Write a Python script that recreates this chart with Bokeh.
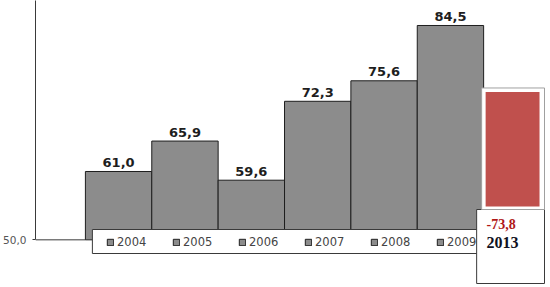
from bokeh.plotting import figure
from bokeh.models import Range1d, FixedTicker, Legend, LegendItem, ColumnDataSource
from bokeh.core.properties import value
from bokeh.embed import file_html
from bokeh.resources import INLINE

# ---- data ----
years = ["2004", "2005", "2006", "2007", "2008", "2009"]
values = [61.0, 65.9, 59.6, 72.3, 75.6, 84.5]
base_value = 50.0
axis_tick_label = "50,0"
highlight_year = "2013"
highlight_value = -73.8

# ---- layout constants (pixels) ----
W, H = 550, 287
LEFT = 34
X0_PX = 84.0        # left edge of first bar
BAR_PX = 66.5       # bar width in px
Y50_PX = 239.34     # pixel row of base value
PX_PER_UNIT = 6.2128


def xd(px):
    return (px - X0_PX) / BAR_PX


def yd(py):
    return base_value + (Y50_PX - py) / PX_PER_UNIT


def ypx(v):
    return Y50_PX - (v - base_value) * PX_PER_UNIT


p = figure(width=W, height=H, output_backend="svg", toolbar_location=None,
           x_range=Range1d(xd(LEFT), xd(W)), y_range=Range1d(yd(H), yd(0)),
           min_border_left=LEFT, min_border_right=0, min_border_top=0,
           min_border_bottom=0, x_axis_location=None, y_axis_location="left")
p.outline_line_color = None
p.grid.visible = False
p.background_fill_color = "white"
p.border_fill_color = "white"

ax = p.yaxis[0]
ax.ticker = FixedTicker(ticks=[base_value])
ax.major_label_overrides = {base_value: axis_tick_label}
ax.bounds = (base_value, yd(0))
ax.axis_line_color = "#3a3a3a"
ax.major_tick_line_color = "#3a3a3a"
ax.major_tick_out = 3
ax.major_tick_in = 0
ax.minor_tick_line_color = None
ax.major_label_standoff = 6
ax.major_label_text_font = "DejaVu Sans"
ax.major_label_text_font_size = "10.5px"
ax.major_label_text_color = "#555555"

# baseline stub to the first bar
p.segment(x0=[xd(LEFT)], y0=[base_value], x1=[0], y1=[base_value],
          line_color="#3a3a3a", line_width=1)

src = ColumnDataSource(dict(
    left=list(range(len(years))),
    right=[i + 1 for i in range(len(years))],
    top=values,
    bottom=[base_value] * len(years),
    year=years,
    xc=[i + 0.5 for i in range(len(years))],
    lab=[f"{v:.1f}".replace(".", ",") for v in values],
))
bars = p.quad(left="left", right="right", top="top", bottom="bottom", source=src,
              fill_color="#8c8c8c", line_color="#1e1e1e", line_width=1)
p.text(x="xc", y="top", text="lab", source=src, text_align="center",
       text_baseline="alphabetic", y_offset=-9,
       text_font=value("DejaVu Sans"), text_font_style="bold",
       text_font_size="13px", text_color="#1e1e1e")

# legend box
p.quad(left=[xd(91)], right=[xd(478)], top=[yd(229)], bottom=[yd(253)],
       fill_color="white", line_color="#3a3a3a", line_width=1)

items = [LegendItem(label=y, renderers=[bars], index=i) for i, y in enumerate(years)]
legend = Legend(items=items, orientation="horizontal", location=(71, 38),
                padding=5, spacing=6, glyph_width=8, glyph_height=8,
                label_standoff=3, label_width=49, label_height=14,
                label_text_font="DejaVu Sans", label_text_font_size="11.5px",
                label_text_color="#444444", border_line_color=None,
                background_fill_alpha=0)
p.add_layout(legend)

# 2013 highlight box
box = p.quad(left=[xd(476)], right=[xd(544)], top=[yd(209)], bottom=[yd(283)],
             fill_color="white", line_color="#3a3a3a", line_width=1)
box.level = "overlay"

red_top = abs(highlight_value)
red_top_px = ypx(red_top)
frame = p.quad(left=[xd(481)], right=[xd(544)], top=[yd(red_top_px - 4)],
               bottom=[yd(209)], fill_color="white", line_color="#a0a0a0",
               line_width=1)
frame.level = "overlay"
red = p.quad(left=[xd(485)], right=[xd(539)], top=[red_top], bottom=[yd(206)],
             fill_color="#c0504d", line_color=None)
red.level = "overlay"

t1 = p.text(x=[xd(486)], y=[yd(223)], text=[f"{highlight_value:.1f}".replace(".", ",")],
            text_align="left", text_baseline="middle",
            text_font=value("Liberation Serif"), text_font_style="bold",
            text_font_size="14px", text_color="#b01818")
t1.level = "overlay"
t2 = p.text(x=[xd(486)], y=[yd(242)], text=[highlight_year],
            text_align="left", text_baseline="middle",
            text_font=value("Liberation Serif"), text_font_style="bold",
            text_font_size="16px", text_color="#111122")
t2.level = "overlay"

open("out.html", "w").write(file_html(p, INLINE))
